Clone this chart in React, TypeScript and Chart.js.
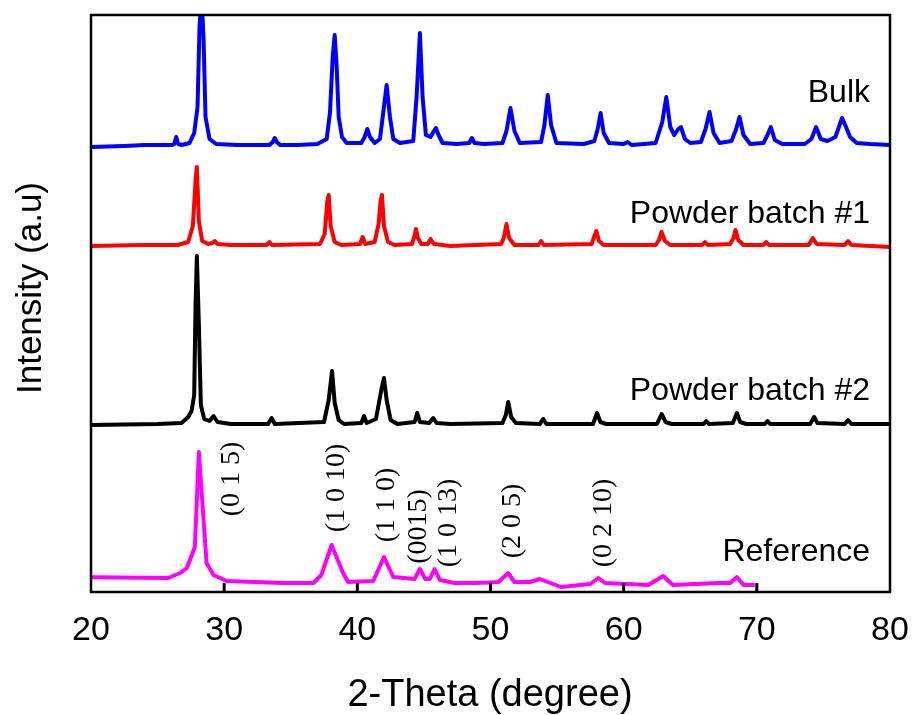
import React, { useEffect, useRef } from "react";
import { Chart, registerables } from "chart.js";

Chart.register(...registerables);

// ---- Data (2θ in degrees, intensity in arbitrary stacked units) ----
const bulkTheta = [20.0, 22.5, 24.0, 26.1, 26.25, 26.4, 26.55, 26.8, 27.4, 27.75, 28.0, 28.15, 28.3, 28.45, 28.6, 28.9, 29.4, 31.0, 33.4, 33.65, 33.8, 33.95, 34.2, 35.5, 37.0, 37.7, 37.95, 38.15, 38.3, 38.45, 38.6, 38.85, 39.2, 40.3, 40.55, 40.75, 40.95, 41.3, 41.7, 41.95, 42.2, 42.45, 42.7, 43.2, 44.2, 44.45, 44.7, 44.9, 45.15, 45.5, 45.75, 45.9, 46.1, 46.4, 47.5, 48.4, 48.6, 48.8, 49.5, 50.9, 51.2, 51.5, 51.8, 52.2, 53.8, 54.05, 54.3, 54.55, 54.95, 57.0, 57.8, 58.05, 58.27, 58.5, 58.9, 60.0, 60.3, 60.6, 62.4, 62.9, 63.2, 63.5, 63.8, 64.1, 64.3, 64.6, 65.0, 65.8, 66.15, 66.45, 66.75, 67.2, 68.1, 68.45, 68.7, 69.0, 69.5, 70.5, 70.8, 71.05, 71.35, 71.9, 73.6, 74.1, 74.45, 74.8, 75.3, 75.9, 76.4, 76.7, 77.0, 77.5, 78.5, 80.0];
const bulkIntensity = [0, 1, 2, 2, 3, 10, 3, 2, 4, 14, 40, 120, 150, 110, 30, 8, 3, 2, 2, 5, 9, 5, 2, 2, 3, 8, 35, 90, 112, 80, 30, 10, 4, 4, 10, 18, 10, 4, 8, 35, 62, 30, 8, 4, 6, 50, 114, 50, 12, 10, 16, 19, 12, 4, 3, 4, 9, 4, 3, 4, 16, 39, 16, 4, 5, 22, 52, 22, 4, 3, 6, 18, 34, 14, 4, 3, 5, 2, 4, 25, 50, 20, 12, 18, 20, 8, 4, 5, 18, 35, 14, 4, 6, 18, 30, 12, 3, 4, 12, 20, 7, 3, 3, 8, 20, 8, 6, 10, 29, 20, 10, 4, 3, 2];

const batch1Theta = [20.0, 24.0, 26.5, 27.3, 27.65, 27.85, 27.95, 28.1, 28.35, 28.8, 29.1, 29.3, 29.5, 30.5, 33.2, 33.4, 33.6, 37.2, 37.55, 37.75, 37.85, 38.0, 38.3, 38.8, 40.2, 40.4, 40.6, 41.3, 41.6, 41.75, 41.85, 42.0, 42.3, 42.8, 44.1, 44.3, 44.4, 44.55, 44.8, 45.3, 45.5, 45.75, 47.0, 50.8, 51.0, 51.2, 51.4, 51.8, 53.6, 53.8, 54.0, 57.6, 57.8, 57.95, 58.15, 58.5, 62.4, 62.65, 62.85, 63.1, 63.5, 65.9, 66.1, 66.3, 68.0, 68.25, 68.4, 68.6, 69.0, 70.5, 70.7, 70.9, 73.9, 74.2, 74.5, 76.6, 76.85, 77.1, 80.0];
const batch1Intensity = [0, 1, 1, 4, 20, 65, 79, 25, 5, 2, 3, 5, 2, 1, 1, 4, 1, 2, 12, 45, 51, 20, 4, 1, 2, 9, 2, 4, 22, 45, 51, 20, 4, 1, 2, 10, 17, 8, 2, 2, 7, 2, 0, 2, 8, 22, 8, 1, 1, 5, 1, 2, 10, 15, 5, 1, 1, 6, 14, 5, 1, 1, 4, 1, 2, 8, 16, 6, 1, 1, 4, 1, 1, 8, 2, 1, 5, 1, -1];

const batch2Theta = [20.0, 25.0, 26.8, 27.3, 27.55, 27.75, 27.85, 27.95, 28.1, 28.25, 28.5, 28.9, 29.2, 29.5, 30.5, 33.3, 33.56, 33.8, 37.5, 37.85, 38.1, 38.3, 38.6, 39.0, 40.3, 40.5, 40.7, 41.4, 41.8, 42.0, 42.2, 42.5, 43.0, 44.3, 44.5, 44.7, 45.4, 45.7, 45.95, 47.0, 50.9, 51.15, 51.33, 51.55, 51.9, 53.7, 53.96, 54.2, 57.7, 58.0, 58.25, 58.7, 62.5, 62.85, 63.15, 63.6, 66.0, 66.2, 66.4, 68.2, 68.5, 68.75, 69.2, 70.6, 70.8, 71.0, 74.0, 74.3, 74.55, 76.6, 76.85, 77.1, 80.0];
const batch2Intensity = [0, 1, 2, 8, 14, 30, 120, 169, 100, 20, 6, 4, 9, 3, 1, 1, 7, 1, 3, 25, 54, 22, 5, 1, 2, 9, 2, 6, 35, 47, 25, 5, 1, 3, 12, 3, 2, 7, 2, 1, 2, 10, 23, 8, 2, 1, 6, 1, 1, 12, 3, 1, 1, 11, 3, 1, 1, 4, 1, 2, 12, 3, 1, 1, 4, 1, 1, 8, 2, 1, 5, 1, 1];

const refTheta = [20.0, 25.8, 26.7, 27.2, 27.8, 28.1, 28.68, 29.2, 30.2, 34.4, 36.7, 37.3, 38.07, 38.9, 39.3, 41.2, 42.0, 42.7, 44.3, 44.7, 45.1, 45.45, 45.8, 46.2, 47.3, 48.7, 49.95, 50.6, 51.33, 51.8, 52.96, 53.7, 55.3, 57.5, 58.1, 58.6, 61.85, 62.97, 63.7, 67.1, 68.0, 68.5, 69.0, 69.85];
const refIntensity = [14.7, 14, 19, 24, 45, 140, 29, 17, 11, 9, 9, 17, 47, 20, 10, 11, 35, 15, 13, 23, 13, 13, 23, 12, 9, 9, 9.5, 10, 19, 10, 10, 13, 5, 8, 14, 9, 7, 16, 7, 9, 9, 15, 7, 7];

const seriesNames = ["Bulk", "Powder batch #1", "Powder batch #2", "Reference"];
const seriesOffsets = [445, 346, 167, 0];

const hklLabels = ["(0 1 5)", "(1 0 10)", "(1 1 0)", "(0015)", "(1 0 13)", "(2 0 5)", "(0 2 10)"];
const hklTheta = [30.56, 38.45, 42.2, 44.57, 46.83, 51.7, 58.47];
const hklLevel = [113, 104, 87, 65.5, 69, 71, 69];

const xTicks = [20, 30, 40, 50, 60, 70, 80];

export default function App() {
  const ref = useRef<HTMLCanvasElement | null>(null);

  useEffect(() => {
    if (!ref.current) return;
    const thetas = [bulkTheta, batch1Theta, batch2Theta, refTheta];
    const ints = [bulkIntensity, batch1Intensity, batch2Intensity, refIntensity];
    const colors = ["#0000FF", "#FF0000", "#000000", "#FF00FF"];
    const labelBase = [490, 369, 192, 31];

    const datasets = thetas.map((t, i) => ({
      label: seriesNames[i],
      data: t.map((x, j) => ({ x, y: ints[i][j] + seriesOffsets[i] })),
      borderColor: colors[i],
      backgroundColor: colors[i],
      borderWidth: 4,
      borderJoinStyle: "round" as const,
      pointRadius: 0,
      tension: 0,
      fill: false,
    }));

    const overlay = {
      id: "overlay",
      afterDraw(chart: any) {
        const ctx = chart.ctx;
        const xs = chart.scales.x;
        const ys = chart.scales.y;
        const a = chart.chartArea;
        ctx.save();
        ctx.strokeStyle = "#000";
        ctx.lineWidth = 2.5;
        ctx.strokeRect(a.left, a.top, a.right - a.left, a.bottom - a.top);
        ctx.lineWidth = 3;
        xTicks.forEach((v) => {
          if (v === 20 || v === 80) return;
          const px = xs.getPixelForValue(v);
          ctx.beginPath();
          ctx.moveTo(px, a.bottom);
          ctx.lineTo(px, a.bottom - 9);
          ctx.stroke();
        });
        ctx.fillStyle = "#000";
        ctx.font = "32px 'Liberation Sans', Arial, sans-serif";
        ctx.textAlign = "right";
        ctx.textBaseline = "alphabetic";
        seriesNames.forEach((n, i) => {
          ctx.fillText(n, xs.getPixelForValue(78.5), ys.getPixelForValue(labelBase[i]));
        });
        ctx.font = "28px 'Liberation Serif', 'Times New Roman', serif";
        ctx.textAlign = "center";
        ctx.textBaseline = "middle";
        hklLabels.forEach((s, i) => {
          ctx.save();
          ctx.translate(xs.getPixelForValue(hklTheta[i]), ys.getPixelForValue(hklLevel[i]));
          ctx.rotate(-Math.PI / 2);
          ctx.fillText(s, 0, 0);
          ctx.restore();
        });
        ctx.font = "35px 'Liberation Sans', Arial, sans-serif";
        ctx.textAlign = "center";
        ctx.textBaseline = "alphabetic";
        ctx.save();
        ctx.translate(41, 288);
        ctx.rotate(-Math.PI / 2);
        ctx.fillText("Intensity (a.u)", 0, 0);
        ctx.restore();
        ctx.font = "38px 'Liberation Sans', Arial, sans-serif";
        ctx.fillText("2-Theta (degree)", 490, 706);
        ctx.restore();
      },
    };

    const chart = new Chart(ref.current, {
      type: "line",
      data: { datasets },
      options: {
        animation: false,
        responsive: true,
        maintainAspectRatio: false,
        layout: { padding: { left: 91, right: 24, top: 15, bottom: 0 } },
        plugins: { legend: { display: false }, tooltip: { enabled: false } },
        scales: {
          x: {
            type: "linear",
            min: 20,
            max: 80,
            afterBuildTicks: (s: any) => {
              s.ticks = xTicks.map((v) => ({ value: v }));
            },
            afterFit: (s: any) => {
              s.height = 123;
              s.paddingLeft = 0;
              s.paddingRight = 0;
            },
            ticks: {
              color: "#000",
              padding: 18,
              font: { size: 34, family: "'Liberation Sans', Arial, sans-serif" },
              maxRotation: 0,
              autoSkip: false,
            },
            grid: { display: false, drawTicks: false, tickLength: 0 },
            border: { display: false },
          },
          y: {
            type: "linear",
            min: 0,
            max: 577,
            display: false,
          },
        },
      },
      plugins: [overlay],
    });
    return () => chart.destroy();
  }, []);

  return (
    <div style={{ position: "absolute", left: 0, top: 0, width: 914, height: 715, background: "#fff" }}>
      <canvas ref={ref} />
    </div>
  );
}
